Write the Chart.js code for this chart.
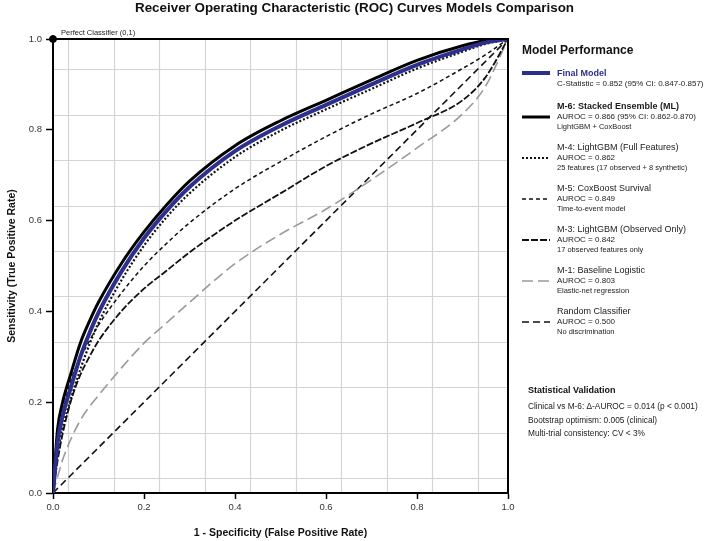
<!DOCTYPE html>
<html>
<head>
<meta charset="utf-8">
<script src="https://cdn.jsdelivr.net/npm/chart.js@4.4.0/dist/chart.umd.min.js"></script>
<style>
  html, body { margin: 0; padding: 0; background: #fff; }
  body { font-family: "Liberation Sans", Arial, sans-serif; color: #1a1a1a; }
  #wrap { position: relative; width: 709px; height: 541px; overflow: hidden; }
  #roc { position: absolute; left: 0; top: 0; }
  #title { position: absolute; left: 0; top: 0; width: 709px; text-align: center;
           font-size: 13.4px; font-weight: bold; line-height: 15px; color: #111; }
  #legend { position: absolute; left: 522px; top: 42px; width: 187px; }
  .lg-head { font-size: 12px; font-weight: bold; line-height: 16px; margin-bottom: 10px; color: #111; }
  .lg-item { position: relative; padding-left: 35px; margin-bottom: 9.5px; white-space: nowrap; }
  .lg-item.first { margin-bottom: 12px; }
  .lg-item svg { position: absolute; left: 0; top: 11.75px; }
  .lg-item.first svg { top: 1.25px; }
  .lg-name { font-size: 9px; line-height: 10.5px; color: #1a1a1a; }
  .lg-score { font-size: 8px; line-height: 10.5px; color: #1a1a1a; }
  .lg-note { font-size: 7.5px; line-height: 10.5px; color: #222; }
  #stats { position: absolute; left: 528px; top: 383px; white-space: nowrap; }
  .st-head { font-size: 9px; font-weight: bold; line-height: 14px; margin-bottom: 3px; color: #111; }
  .st-line { font-size: 8.3px; line-height: 13.5px; color: #1a1a1a; }
</style>
</head>
<body>
<div id="wrap">
  <canvas id="roc" width="709" height="541"></canvas>
  <div id="title"></div>
  <div id="legend"></div>
  <div id="stats"></div>
</div>
<script>
// valori letti a occhio dal grafico di riferimento
const fprGrid = [0, 0.01, 0.02, 0.04, 0.06, 0.08, 0.1, 0.15, 0.2, 0.25, 0.3, 0.4, 0.5, 0.6, 0.7, 0.8, 0.9, 0.95, 1.0];
const tprFinal = [0, 0.11, 0.165, 0.235, 0.30, 0.352, 0.397, 0.487, 0.561, 0.622, 0.674, 0.753, 0.809, 0.855, 0.90, 0.943, 0.977, 0.992, 1.0];
const tprM6 = [0, 0.14, 0.195, 0.265, 0.33, 0.378, 0.42, 0.505, 0.575, 0.635, 0.687, 0.765, 0.82, 0.865, 0.91, 0.953, 0.985, 0.996, 1.0];
const tprM4 = [0, 0.085, 0.14, 0.21, 0.272, 0.327, 0.375, 0.468, 0.545, 0.608, 0.66, 0.74, 0.798, 0.845, 0.89, 0.935, 0.972, 0.989, 1.0];
const tprM5 = [0, 0.10, 0.17, 0.25, 0.297, 0.335, 0.37, 0.44, 0.50, 0.55, 0.595, 0.67, 0.73, 0.785, 0.835, 0.88, 0.935, 0.965, 1.0];
const tprM3 = [0, 0.07, 0.125, 0.205, 0.26, 0.30, 0.335, 0.40, 0.45, 0.49, 0.53, 0.60, 0.66, 0.72, 0.77, 0.815, 0.865, 0.915, 1.0];
const tprM1 = [0, 0.035, 0.07, 0.12, 0.16, 0.19, 0.215, 0.275, 0.33, 0.375, 0.42, 0.505, 0.57, 0.625, 0.69, 0.76, 0.835, 0.895, 1.0];
const randomFpr = [0, 1];
const randomTpr = [0, 1];
const perfectPoint = [0, 1];

const modelNames = ['Final Model', 'M-6: Stacked Ensemble (ML)', 'M-4: LightGBM (Full Features)', 'M-5: CoxBoost Survival',
                    'M-3: LightGBM (Observed Only)', 'M-1: Baseline Logistic', 'Random Classifier'];
const scoreLabels = ['C-Statistic = 0.852 (95% CI: 0.847-0.857)', 'AUROC = 0.866 (95% CI: 0.862-0.870)', 'AUROC = 0.862',
                     'AUROC = 0.849', 'AUROC = 0.842', 'AUROC = 0.803', 'AUROC = 0.500'];
const modelNotes = ['', 'LightGBM + CoxBoost', '25 features (17 observed + 8 synthetic)', 'Time-to-event model',
                    '17 observed features only', 'Elastic-net regression', 'No discrimination'];
const statLines = ['Clinical vs M-6: Δ-AUROC = 0.014 (p < 0.001)', 'Bootstrap optimism: 0.005 (clinical)', 'Multi-trial consistency: CV < 3%'];
const tickValues = [0, 0.2, 0.4, 0.6, 0.8, 1.0];
const gridValues = [0.033, 0.133, 0.233, 0.333, 0.433, 0.533, 0.633, 0.733, 0.833, 0.933];

const chartTitle = 'Receiver Operating Characteristic (ROC) Curves Models Comparison';
const xTitle = '1 - Specificity (False Positive Rate)';
const yTitle = 'Sensitivity (True Positive Rate)';
const perfectLabel = 'Perfect Classifier (0,1)';

// stili delle linee (stesso ordine di modelNames)
const lineStyles = [
    { color: '#2d2f8c', width: 4, dash: [] },
    { color: '#000000', width: 3, dash: [] },
    { color: '#111111', width: 2.2, dash: [2, 2] },
    { color: '#111111', width: 1.5, dash: [4, 3] },
    { color: '#111111', width: 1.8, dash: [7, 2] },
    { color: '#9a9a9a', width: 1.6, dash: [11, 5] },
    { color: '#111111', width: 1.6, dash: [7, 4] }
];

const FONT = '"Liberation Sans", Arial, sans-serif';
Chart.defaults.font.family = FONT;

const seriesFpr = [fprGrid, fprGrid, fprGrid, fprGrid, fprGrid, fprGrid, randomFpr];
const seriesTpr = [tprFinal, tprM6, tprM4, tprM5, tprM3, tprM1, randomTpr];

const datasets = seriesTpr.map((tpr, i) => ({
    label: modelNames[i],
    data: seriesFpr[i].map((x, k) => ({ x: x, y: tpr[k] })),
    borderColor: lineStyles[i].color,
    borderWidth: lineStyles[i].width,
    borderDash: lineStyles[i].dash,
    pointRadius: 0,
    fill: false,
    cubicInterpolationMode: 'monotone'
}));

// punto del classificatore perfetto, sopra tutto
datasets.push({
    label: 'Perfect Classifier',
    data: [{ x: perfectPoint[0], y: perfectPoint[1] }],
    showLine: false,
    pointRadius: 3.5,
    pointBackgroundColor: '#000',
    pointBorderColor: '#000',
    clip: false,
    order: -1
});

// griglia sfalsata, cornice e annotazione
const rocDecor = {
    id: 'rocDecor',
    beforeDraw(chart) {
        const { ctx, chartArea: a, scales: { x, y } } = chart;
        ctx.save();
        ctx.strokeStyle = '#d4d4d4';
        ctx.lineWidth = 1.2;
        gridValues.forEach(v => {
            const px = Math.round(x.getPixelForValue(v)) + 0.5;
            const py = Math.round(y.getPixelForValue(v)) + 0.5;
            ctx.beginPath(); ctx.moveTo(px, a.top); ctx.lineTo(px, a.bottom); ctx.stroke();
            ctx.beginPath(); ctx.moveTo(a.left, py); ctx.lineTo(a.right, py); ctx.stroke();
        });
        ctx.restore();
    },
    afterDatasetsDraw(chart) {
        const { ctx, chartArea: a, scales: { x, y } } = chart;
        ctx.save();
        ctx.strokeStyle = '#000';
        ctx.lineWidth = 2;
        ctx.beginPath();
        ctx.moveTo(a.left, a.top);
        ctx.lineTo(a.right, a.top);
        ctx.lineTo(a.right, a.bottom);
        ctx.stroke();
        ctx.fillStyle = '#1a1a1a';
        ctx.font = '7.5px ' + FONT;
        ctx.textBaseline = 'middle';
        ctx.fillText(perfectLabel, x.getPixelForValue(perfectPoint[0]) + 8, y.getPixelForValue(perfectPoint[1]) - 6);
        ctx.restore();
    }
};

function axisOptions(titleText, isX) {
    return {
        type: 'linear',
        min: 0,
        max: 1,
        afterBuildTicks: s => { s.ticks = tickValues.map(v => ({ value: v })); },
        afterFit: s => { if (isX) { s.height = 48; } else { s.width = 53; } },
        ticks: {
            callback: v => v.toFixed(1),
            color: '#333',
            font: { size: 9.5 },
            padding: isX ? 3 : 4,
            maxRotation: 0,
            autoSkip: false
        },
        grid: { drawOnChartArea: false, tickLength: isX ? 6 : 7, tickColor: '#000', tickWidth: 1.5 },
        border: { color: '#000', width: 2 },
        title: {
            display: true,
            text: titleText,
            color: '#111',
            font: { size: 10.5, weight: 'bold' },
            padding: isX ? { top: 0, bottom: 2 } : { top: 5.5, bottom: 0 }
        }
    };
}

new Chart(document.getElementById('roc'), {
    type: 'line',
    data: { datasets: datasets },
    options: {
        responsive: false,
        animation: false,
        layout: { padding: { left: 0, right: 201, top: 39, bottom: 0 } },
        plugins: { legend: { display: false }, tooltip: { enabled: false }, title: { display: false } },
        scales: { x: axisOptions(xTitle, true), y: axisOptions(yTitle, false) }
    },
    plugins: [rocDecor]
});

// titolo e legenda in HTML
document.getElementById('title').textContent = chartTitle;

const legendEl = document.getElementById('legend');
const head = document.createElement('div');
head.className = 'lg-head';
head.textContent = 'Model Performance';
legendEl.appendChild(head);

modelNames.forEach((name, i) => {
    const item = document.createElement('div');
    item.className = 'lg-item' + (i === 0 ? ' first' : '');
    const st = lineStyles[i];
    item.innerHTML = '<svg width="28" height="8"><line x1="0" y1="4" x2="28" y2="4" stroke="' + st.color +
        '" stroke-width="' + st.width + '" stroke-dasharray="' + (st.dash.length ? st.dash.join(' ') : 'none') + '"/></svg>';
    const nameEl = document.createElement('div');
    nameEl.className = 'lg-name';
    nameEl.textContent = name;
    if (i === 0) { nameEl.style.fontWeight = 'bold'; nameEl.style.color = lineStyles[0].color; }
    if (i === 1) { nameEl.style.fontWeight = 'bold'; }
    item.appendChild(nameEl);
    const scoreEl = document.createElement('div');
    scoreEl.className = 'lg-score';
    scoreEl.textContent = scoreLabels[i];
    item.appendChild(scoreEl);
    if (modelNotes[i]) {
        const noteEl = document.createElement('div');
        noteEl.className = 'lg-note';
        noteEl.textContent = modelNotes[i];
        item.appendChild(noteEl);
    }
    legendEl.appendChild(item);
});

const statsEl = document.getElementById('stats');
const stHead = document.createElement('div');
stHead.className = 'st-head';
stHead.textContent = 'Statistical Validation';
statsEl.appendChild(stHead);
statLines.forEach(t => {
    const d = document.createElement('div');
    d.className = 'st-line';
    d.textContent = t;
    statsEl.appendChild(d);
});
</script>
</body>
</html>
